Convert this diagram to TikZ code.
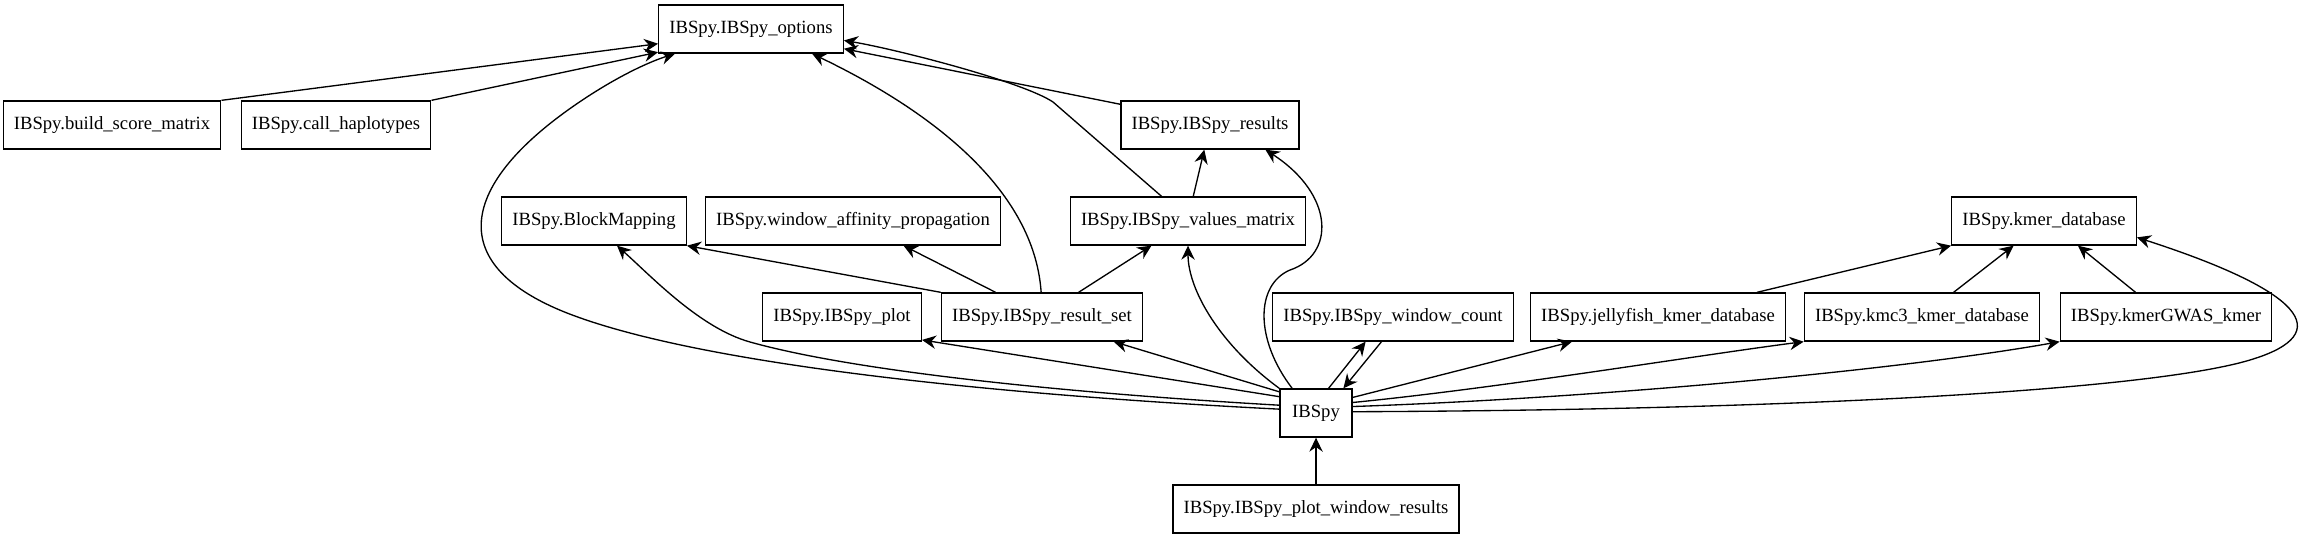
\documentclass[tikz,border=0pt]{standalone}
\usepackage{fontspec}
\setmainfont{Liberation Serif}
\usetikzlibrary{arrows.meta}

\begin{document}
\begin{tikzpicture}[x=0.75pt, y=-0.75pt,
    module/.style={draw, line width=1pt, minimum height=36pt, minimum width=54pt,
        inner xsep=8pt, inner ysep=0pt, font=\fontsize{14}{16}\selectfont},
    dep/.style={-{Stealth[length=10.5pt, width=10pt, inset=3.5pt]}, line width=1pt}]
\useasboundingbox (0,0) rectangle (2302,539);

% top rows
\node[module] (options) at (751,29) {IBSpy.IBSpy\_options};
\node[module] (build) at (112,125) {IBSpy.build\_score\_matrix};
\node[module] (call) at (336,125) {IBSpy.call\_haplotypes};
\node[module] (results) at (1210,125) {IBSpy.IBSpy\_results};
\node[module] (blockmap) at (594,221) {IBSpy.BlockMapping};
\node[module] (wap) at (853,221) {IBSpy.window\_affinity\_propagation};
\node[module] (values) at (1188,221) {IBSpy.IBSpy\_values\_matrix};
\node[module] (kmerdb) at (2044,221) {IBSpy.kmer\_database};

% middle row
\node[module] (plot) at (842,317) {IBSpy.IBSpy\_plot};
\node[module] (rset) at (1042,317) {IBSpy.IBSpy\_result\_set};
\node[module] (wcount) at (1393,317) {IBSpy.IBSpy\_window\_count};
\node[module] (jelly) at (1658,317) {IBSpy.jellyfish\_kmer\_database};
\node[module] (kmc) at (1922,317) {IBSpy.kmc3\_kmer\_database};
\node[module] (kmergwas) at (2166,317) {IBSpy.kmerGWAS\_kmer};

% bottom
\node[module] (ibspy) at (1316,413) {IBSpy};
\node[module] (pwr) at (1316,509) {IBSpy.IBSpy\_plot\_window\_results};

% into options
\draw[dep] (build.north east) -- (options.189);
\draw[dep] (call.north east) -- (options.194);
\draw[dep] (ibspy.174) .. controls (1000,395) and (700,365) .. (567,313)
        .. controls (440,263) and (460,180) .. (587,97)
        .. controls (627,71) and (655,60) .. (options.198);
\draw[dep] (rset.92) .. controls (1035,200) and (950,120) .. (options.338);
\draw[dep] (values.137) -- (1053,102) .. controls (1023,82) and (900,50) .. (options.353);
\draw[dep] (results.167) -- (options.348);

% result set
\draw[dep] (rset.north west) -- (blockmap.south east);
\draw[dep] (rset.152) -- (wap.334);
\draw[dep] (rset.34) -- (values.214);
\draw[dep] (values.78) -- (results.257);

% from IBSpy
\draw[dep] (ibspy.168) .. controls (1050,392) and (850,370) .. (750,342)
        .. controls (700,328) and (652,277) .. (blockmap.313);
\draw[dep] (ibspy.134) .. controls (1255,340) and (1255,285) .. (1290,270)
        .. controls (1335,255) and (1335,195) .. (results.336);
\draw[dep] (ibspy.north west) .. controls (1220,345) and (1188,290) .. (values.south);
\draw[dep] (ibspy.63) -- (wcount.222);
\draw[dep] (wcount.245) -- (ibspy.42);
\draw[dep] (ibspy.156) -- (plot.344);
\draw[dep] (ibspy.150) -- (rset.341);
\draw[dep] (ibspy.23) -- (jelly.196);
\draw[dep] (ibspy.16) .. controls (1500,388) and (1700,355) .. (kmc.south west);
\draw[dep] (ibspy.10) .. controls (1600,398) and (1900,370) .. (kmergwas.south west);
\draw[dep] (ibspy.2) .. controls (1800,410) and (2150,390) .. (2250,360)
        .. controls (2340,333) and (2300,290) .. (kmerdb.350);

% kmer databases
\draw[dep] (jelly.14) -- (kmerdb.south west);
\draw[dep] (kmc.38) -- (kmerdb.219);
\draw[dep] (kmergwas.141) -- (kmerdb.324);

\draw[dep] (pwr) -- (ibspy);
\end{tikzpicture}
\end{document}
